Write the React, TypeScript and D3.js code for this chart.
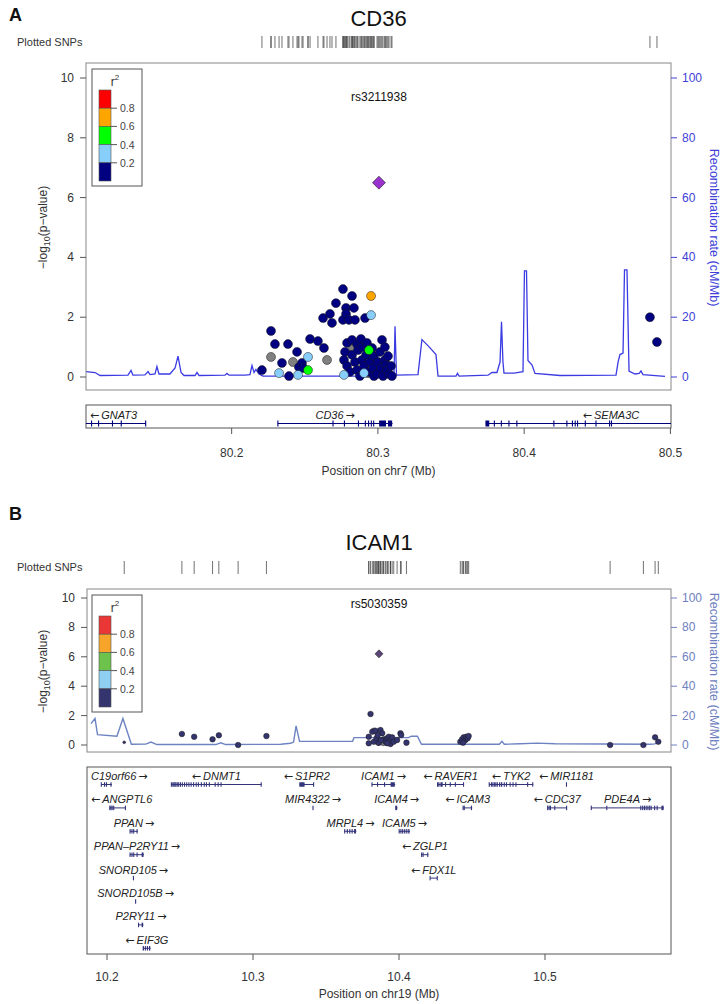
import React from "react";
import * as d3 from "d3";

const FONT = "'Liberation Sans', Arial, Helvetica, sans-serif";
const ARROW_FONT = "'DejaVu Sans', sans-serif";

// ---------------- shared ticks / labels ----------------
const Y_TICKS = [0, 2, 4, 6, 8, 10];
const RECOMB_TICKS = [0, 20, 40, 60, 80, 100];
const LD_LABELS = ["0.2", "0.4", "0.6", "0.8"];

// ---------------- panel A : CD36 ----------------
const TITLE_A = "CD36";
const CHR_A = "chr7";
const X_DOMAIN_A = [80.1004, 80.5004];
const X_TICKS_A = [80.2, 80.3, 80.4, 80.5];
const LEAD_A: [string, number, number] = ["rs3211938", 80.3007, 6.5];
// [position Mb, -log10 p, LD class (-1 = NA, 0 <0.2, 1 0.2-0.4, 2 0.4-0.6, 3 0.6-0.8, 4 >0.8)]
const SNPS_A: [number, number, number][] = [
  [80.2207, 0.23, 0], [80.2269, 1.54, 0], [80.2269, 0.67, -1], [80.2296, 1.1, 0],
  [80.2324, 0.13, 1], [80.2344, 0.47, 0], [80.2385, 1.1, 0], [80.2392, 0.03, 0],
  [80.2419, 0.5, -1], [80.2447, 0.84, 0], [80.2454, 0.07, 1], [80.246, 0.33, 0],
  [80.2481, 0.47, 0], [80.2488, 0.3, 0], [80.2522, 0.67, 1], [80.2522, 0.23, 2],
  [80.2536, 1.27, 0], [80.259, 1.2, 0], [80.2625, 1.97, 0], [80.2631, 0.97, 0],
  [80.2652, 0.57, -1], [80.2672, 2.11, 0], [80.2686, 1.81, 0], [80.2713, 2.47, 0],
  [80.2761, 2.94, 0], [80.2761, 1.91, 0], [80.2768, 0.07, 1], [80.2768, 0.57, 0],
  [80.2775, 0.84, 0], [80.2782, 2.31, 0], [80.2782, 2.11, 0], [80.2789, 1.14, 0],
  [80.2789, 0.37, 0], [80.2802, 1.91, 0], [80.2809, 0.17, 0], [80.2823, 2.71, 0],
  [80.2823, 1.24, 0], [80.2823, 0.74, 0], [80.283, 0.94, -1], [80.2836, 2.31, 0],
  [80.2843, 1.91, 0], [80.2843, 0.5, 0], [80.2857, 1.1, 0], [80.2857, 0.23, 0],
  [80.2864, 0.9, 0], [80.2877, 0.03, 0], [80.2884, 1.27, 0], [80.2891, 1.0, 0],
  [80.2891, 0.57, 0], [80.2905, 0.37, 0], [80.2905, 0.13, 1], [80.2912, 1.97, 0],
  [80.2919, 0.74, 0], [80.2925, 1.14, 0], [80.2932, 0.17, 0], [80.2932, 0.13, -1],
  [80.2939, 0.9, 2], [80.2946, 0.5, 0], [80.2953, 2.71, 3], [80.2953, 2.07, 1],
  [80.296, 0.97, 0], [80.2966, 0.3, 0], [80.2973, 0.7, 0], [80.2973, 0.03, 0],
  [80.2994, 0.1, 0], [80.3001, 0.5, 0], [80.3014, 0.84, 0], [80.3021, 0.3, 0],
  [80.3028, 1.24, 0], [80.3035, 0.03, 0], [80.3048, 1.0, 0], [80.3048, 0.57, 0],
  [80.3055, 0.4, 0], [80.3062, 0.23, 0], [80.3069, 0.7, 0], [80.3076, 0.1, 0],
  [80.309, 0.37, 0], [80.3096, 0.03, 0], [80.486, 2.0, 0], [80.4908, 1.17, 0],
];
// [position Mb, recombination rate cM/Mb]
const RECOMB_A: [number, number][] = [
  [80.1004, 1.8], [80.1066, 1.5], [80.11, 0.5], [80.1291, 0.6], [80.1312, 2.2], [80.1325, 0.6],
  [80.1407, 0.7], [80.1428, 1.8], [80.1442, 0.8], [80.1476, 1.0], [80.1489, 3.5], [80.1503, 1.0],
  [80.1578, 1.0], [80.1613, 3.0], [80.1633, 7.0], [80.1654, 1.5], [80.1674, 0.5], [80.1749, 0.5],
  [80.1763, 1.5], [80.1777, 0.5], [80.1954, 0.6], [80.1968, 1.2], [80.1982, 0.6], [80.2091, 0.6],
  [80.2125, 0.8], [80.2139, 3.8], [80.2153, 1.5], [80.2166, 2.5], [80.2187, 1.0], [80.2214, 0.3],
  [80.311, 0.3], [80.3117, 17.0], [80.3127, 0.6], [80.3274, 0.8], [80.3301, 12.5], [80.3342, 10.5],
  [80.337, 9.0], [80.3397, 7.5], [80.3411, 0.3], [80.3534, 0.3], [80.3544, 1.2], [80.3555, 0.3],
  [80.3753, 0.6], [80.378, 1.5], [80.3814, 1.5], [80.3835, 5.0], [80.3845, 18.5], [80.3855, 5.0],
  [80.3862, 1.3], [80.3931, 1.3], [80.3992, 1.8], [80.4002, 35.5], [80.4016, 35.5], [80.4026, 5.5],
  [80.4054, 4.0], [80.4074, 1.2], [80.4245, 0.5], [80.4628, 0.6], [80.4642, 5.0], [80.4655, 7.5],
  [80.4676, 8.0], [80.4686, 35.8], [80.4703, 35.8], [80.4717, 2.0], [80.4758, 1.0], [80.4786, 1.2],
  [80.4799, 2.0], [80.4812, 0.8], [80.4963, 0.2],
];
const GENES_A = [
  { name: "GNAT3", start: 80.0879, end: 80.1414, strand: "-", row: 0,
    exons: [[80.1041, 80.1045], [80.1089, 80.1093], [80.1184, 80.1188], [80.1244, 80.1248], [80.1411, 80.1414]] },
  { name: "CD36", start: 80.2315, end: 80.31, strand: "+", row: 0,
    exons: [[80.2315, 80.2318], [80.2692, 80.2695], [80.277, 80.2776], [80.2866, 80.2869], [80.2913, 80.2916],
      [80.2935, 80.2938], [80.2954, 80.2957], [80.297, 80.2973], [80.3011, 80.3058], [80.3072, 80.31]] },
  { name: "SEMA3C", start: 80.3738, end: 80.545, strand: "-", row: 0,
    exons: [[80.3738, 80.3764], [80.3795, 80.3798], [80.3843, 80.3846], [80.3895, 80.3898], [80.3949, 80.3952],
      [80.4202, 80.4205], [80.4291, 80.4294], [80.4329, 80.4332], [80.4348, 80.4351], [80.4364, 80.4367],
      [80.4417, 80.442], [80.449, 80.4493], [80.4583, 80.4586], [80.4596, 80.4599]] },
];

// ---------------- panel B : ICAM1 ----------------
const TITLE_B = "ICAM1";
const CHR_B = "chr19";
const X_DOMAIN_B = [10.1863, 10.5863];
const X_TICKS_B = [10.2, 10.3, 10.4, 10.5];
const LEAD_B: [string, number, number] = ["rs5030359", 10.3863, 6.2];
const SNPS_B: [number, number, number][] = [
  [10.2118, 0.18, 0], [10.2513, 0.75, 0], [10.2597, 0.56, 0], [10.2723, 0.39, 0],
  [10.2766, 0.66, 0], [10.2898, 0.0, 0], [10.3092, 0.61, 0], [10.3805, 2.11, 0],
  [10.3793, 0.56, 0], [10.3817, 0.9, 0], [10.3839, 0.97, 0], [10.3828, 0.22, 0],
  [10.3846, 0.46, 0], [10.3862, 0.16, 0], [10.3873, 1.02, 0], [10.3885, 0.8, 0],
  [10.3896, 0.39, 0], [10.3907, 0.22, 0], [10.3919, 0.46, 0], [10.393, 0.56, 0],
  [10.3942, 0.34, 0], [10.3942, 0.07, 0], [10.3953, 0.52, 0], [10.3964, 0.22, 0],
  [10.3987, 0.34, 0], [10.401, 0.8, 0], [10.4015, 0.68, 0], [10.4051, 0.16, 0],
  [10.3793, 0.12, 0], [10.3854, 0.68, 0], [10.3876, 0.34, 0], [10.3919, 0.12, 0],
  [10.3828, 0.97, -1], [10.3858, 0.16, -1], [10.3893, 0.14, -1],
  [10.442, 0.22, 0], [10.4432, 0.39, 0], [10.4443, 0.52, 0], [10.4455, 0.34, 0],
  [10.4461, 0.56, 0], [10.447, 0.46, 0], [10.4477, 0.61, 0], [10.4439, 0.16, 0],
  [10.5446, 0.0, 0], [10.5674, 0.0, 0], [10.5754, 0.52, 0], [10.5776, 0.22, 0],
];
const RECOMB_B: [number, number][] = [
  [10.189, 14.5], [10.1918, 18.0], [10.1935, 7.0], [10.2068, 6.0], [10.2109, 18.0], [10.2167, 0.5],
  [10.2266, 0.6], [10.2301, 2.0], [10.2342, 0.3], [10.2745, 0.3], [10.2779, 1.5], [10.2813, 0.3],
  [10.319, 0.5], [10.3258, 1.2], [10.3278, 2.0], [10.3295, 13.0], [10.3319, 2.5], [10.3682, 2.5],
  [10.3692, 5.0], [10.4065, 5.0], [10.4085, 6.0], [10.4126, 6.0], [10.4154, 0.5], [10.4687, 0.5],
  [10.4705, 2.5], [10.4721, 0.5], [10.483, 0.8], [10.4947, 1.3], [10.507, 0.8], [10.5719, 0.5],
  [10.5753, 0.8], [10.5788, 3.0],
];
const GENES_B = [
  { name: "C19orf66", start: 10.196, end: 10.2034, strand: "+", row: 0,
    exons: [[10.196, 10.1964], [10.1982, 10.1987], [10.1995, 10.2003], [10.2026, 10.2034]] },
  { name: "DNMT1", start: 10.244, end: 10.3058, strand: "-", row: 0,
    exons: [[10.244, 10.2446], [10.245, 10.2453], [10.2457, 10.246], [10.2464, 10.2467], [10.2471, 10.2474],
      [10.248, 10.2483], [10.249, 10.2493], [10.2502, 10.2505], [10.2515, 10.2518], [10.253, 10.2533],
      [10.2545, 10.2548], [10.256, 10.2563], [10.2575, 10.2578], [10.2592, 10.2595], [10.261, 10.2613],
      [10.2625, 10.2628], [10.2645, 10.2648], [10.2665, 10.2668], [10.268, 10.2683], [10.27, 10.2703],
      [10.274, 10.2743], [10.276, 10.2763], [10.278, 10.2783], [10.3055, 10.3058]] },
  { name: "S1PR2", start: 10.332, end: 10.3418, strand: "-", row: 0, exons: [[10.332, 10.3356], [10.3414, 10.3418]] },
  { name: "ICAM1", start: 10.3814, end: 10.3974, strand: "+", row: 0,
    exons: [[10.3814, 10.3817], [10.3852, 10.3855], [10.39, 10.3903], [10.3945, 10.3974]] },
  { name: "RAVER1", start: 10.4263, end: 10.4444, strand: "-", row: 0,
    exons: [[10.4263, 10.4275], [10.428, 10.4284], [10.429, 10.4302], [10.4318, 10.4322], [10.435, 10.4354],
      [10.4385, 10.4388], [10.4441, 10.4444]] },
  { name: "TYK2", start: 10.4617, end: 10.4919, strand: "-", row: 0,
    exons: [[10.4617, 10.4625], [10.4632, 10.4635], [10.4642, 10.4645], [10.4652, 10.4655], [10.4662, 10.4665],
      [10.4672, 10.468], [10.4688, 10.4692], [10.47, 10.471], [10.472, 10.4723], [10.4735, 10.4738],
      [10.476, 10.4763], [10.478, 10.4783], [10.48, 10.4803], [10.488, 10.4883], [10.4915, 10.4919]] },
  { name: "MIR1181", start: 10.5146, end: 10.5148, strand: "-", row: 0, exons: [[10.5146, 10.5148]] },
  { name: "ANGPTL6", start: 10.2018, end: 10.2128, strand: "-", row: 1,
    exons: [[10.2018, 10.2022], [10.2026, 10.203], [10.2034, 10.204], [10.2045, 10.2048], [10.2125, 10.2128]] },
  { name: "MIR4322", start: 10.341, end: 10.3411, strand: "+", row: 1, exons: [[10.341, 10.3411]] },
  { name: "ICAM4", start: 10.3977, end: 10.399, strand: "+", row: 1, exons: [[10.3977, 10.399]] },
  { name: "ICAM3", start: 10.4438, end: 10.4502, strand: "-", row: 1,
    exons: [[10.4438, 10.4442], [10.4446, 10.445], [10.4495, 10.4502]] },
  { name: "CDC37", start: 10.5017, end: 10.515, strand: "-", row: 1,
    exons: [[10.5017, 10.5022], [10.5027, 10.5031], [10.5036, 10.5041], [10.5066, 10.5069], [10.5147, 10.515]] },
  { name: "PDE4A", start: 10.5316, end: 10.5815, strand: "+", row: 1,
    exons: [[10.5316, 10.5318], [10.5422, 10.5424], [10.5655, 10.5657], [10.5668, 10.567], [10.568, 10.5682],
      [10.5692, 10.5694], [10.5704, 10.5706], [10.5716, 10.5718], [10.5726, 10.5728], [10.575, 10.5752],
      [10.5767, 10.5769], [10.58, 10.5815]] },
  { name: "PPAN", start: 10.2157, end: 10.2212, strand: "+", row: 2,
    exons: [[10.2157, 10.2162], [10.217, 10.2175], [10.2182, 10.2186], [10.2205, 10.2212]] },
  { name: "MRPL4", start: 10.3627, end: 10.3708, strand: "+", row: 2,
    exons: [[10.3627, 10.363], [10.3645, 10.3649], [10.3662, 10.3666], [10.3678, 10.3684], [10.3695, 10.3708]] },
  { name: "ICAM5", start: 10.4, end: 10.4075, strand: "+", row: 2,
    exons: [[10.4, 10.4006], [10.4012, 10.4018], [10.4024, 10.4032], [10.4038, 10.4046], [10.4052, 10.406], [10.4066, 10.4075]] },
  { name: "PPAN\u2013P2RY11", start: 10.2157, end: 10.2253, strand: "+", row: 3,
    exons: [[10.2157, 10.2162], [10.217, 10.2175], [10.2182, 10.2186], [10.2205, 10.221], [10.224, 10.2253]] },
  { name: "ZGLP1", start: 10.4154, end: 10.4201, strand: "-", row: 3,
    exons: [[10.4154, 10.4159], [10.4164, 10.417], [10.4196, 10.4201]] },
  { name: "SNORD105", start: 10.218, end: 10.2181, strand: "+", row: 4, exons: [[10.218, 10.2181]] },
  { name: "FDX1L", start: 10.4212, end: 10.4264, strand: "-", row: 4, exons: [[10.4212, 10.4215], [10.4261, 10.4264]] },
  { name: "SNORD105B", start: 10.2195, end: 10.2196, strand: "+", row: 5, exons: [[10.2195, 10.2196]] },
  { name: "P2RY11", start: 10.2215, end: 10.225, strand: "+", row: 6, exons: [[10.2215, 10.2222], [10.224, 10.225]] },
  { name: "EIF3G", start: 10.2247, end: 10.2299, strand: "-", row: 7,
    exons: [[10.2247, 10.2256], [10.2262, 10.2268], [10.2276, 10.2283], [10.229, 10.2299]] },
];

// ---------------- styles ----------------
const COLORS_A = { ld: ["#000080", "#87CEFA", "#00FF00", "#FFA500", "#FF0000"], na: "#808080", lead: "#9932CC",
  recomb: "#3B3BE3", right: "#4040D8", gene: "#00007A" };
const COLORS_B = { ld: ["#34346E", "#8FCFF2", "#6CC24A", "#F6A52A", "#EA3634"], na: "#8A8A8A", lead: "#5A4478",
  recomb: "#6E84C2", right: "#6E80C0", gene: "#34347C" };

const CFG_A = {
  letter: "A", title: TITLE_A, chr: CHR_A, xDomain: X_DOMAIN_A, xTicks: X_TICKS_A, lead: LEAD_A, snps: SNPS_A,
  recomb: RECOMB_A, genes: GENES_A, colors: COLORS_A,
  letterY: 21, titleY: 26, snpLabelY: 46, tick0: 36, tick1: 48,
  fx0: 86, fx1: 671, fy0: 63, fy1: 390, yRange: [377, 78], leadLabelY: 101,
  gy0: 405, gy1: 428, rowLabel0: 419, rowGene0: 423.5, rowStep: 0, exonH: 6,
  xLabelY: 457, xTitleY: 475, legendY: 69, r: 4.5, dia: 6.5, lineW: 1.3,
};
const CFG_B = {
  letter: "B", title: TITLE_B, chr: CHR_B, xDomain: X_DOMAIN_B, xTicks: X_TICKS_B, lead: LEAD_B, snps: SNPS_B,
  recomb: RECOMB_B, genes: GENES_B, colors: COLORS_B,
  letterY: 520, titleY: 550, snpLabelY: 571, tick0: 561, tick1: 574,
  fx0: 87, fx1: 671, fy0: 589, fy1: 752, yRange: [745, 598], leadLabelY: 608,
  gy0: 767, gy1: 954, rowLabel0: 780, rowGene0: 784.5, rowStep: 23.4, exonH: 4.5,
  xLabelY: 981, xTitleY: 998, legendY: 595, r: 2.8, dia: 4, lineW: 1.4,
};

let measureCtx: CanvasRenderingContext2D | null = null;
function textWidth(s: string, font: string) {
  if (!measureCtx && typeof document !== "undefined") measureCtx = document.createElement("canvas").getContext("2d");
  if (!measureCtx) return s.length * 6;
  measureCtx.font = font;
  return measureCtx.measureText(s).width;
}

function Legend({ x0, y0, colors }: { x0: number; y0: number; colors: string[] }) {
  const segTop = y0 + 21;
  const segH = 18.2;
  const cx = x0 + 7;
  const cw = 12;
  return (
    <g>
      <rect x={x0} y={y0} width={50} height={117} fill="#fff" stroke="#555" strokeWidth={1} />
      <text x={x0 + 23} y={y0 + 17} fontSize={12} textAnchor="middle" fill="#333">
        r<tspan fontSize={8} dy={-6}>2</tspan>
      </text>
      {colors.slice().reverse().map((c, i) => (
        <rect key={i} x={cx} y={segTop + i * segH} width={cw} height={segH} fill={c} stroke="#555" strokeWidth={0.6} />
      ))}
      {LD_LABELS.slice().reverse().map((l, i) => (
        <g key={l}>
          <line x1={cx + cw} x2={cx + cw + 6} y1={segTop + (i + 1) * segH} y2={segTop + (i + 1) * segH} stroke="#555" />
          <text x={cx + cw + 9} y={segTop + (i + 1) * segH + 4} fontSize={10.5} fill="#444">{l}</text>
        </g>
      ))}
    </g>
  );
}

function Panel({ c }: { c: any }) {
  const x = d3.scaleLinear().domain(c.xDomain).range([c.fx0, c.fx1]);
  const y = d3.scaleLinear().domain([0, 10]).range(c.yRange);
  const yr = d3.scaleLinear().domain([0, 100]).range(c.yRange);
  const line = d3.line<[number, number]>().x((d) => x(d[0])).y((d) => yr(d[1]));
  const clipId = "clip" + c.letter;
  const gclipId = "gclip" + c.letter;
  const order = [-1, 0, 1, 2, 3, 4];
  const snps = c.snps.slice().sort((a: any, b: any) => order.indexOf(a[2]) - order.indexOf(b[2]));
  const allPos = c.snps.map((s: any) => s[0]).concat([c.lead[1]]);
  const colorOf = (ld: number) => (ld < 0 ? c.colors.na : c.colors.ld[ld]);
  const lx = x(c.lead[1]);
  const ly = y(c.lead[2]);
  const midY = (c.yRange[0] + c.yRange[1]) / 2;
  const geneFont = `italic 11px ${FONT}`;
  const arrowFont = `11px ${ARROW_FONT}`;

  return (
    <g fontFamily={FONT}>
      <defs>
        <clipPath id={clipId}>
          <rect x={c.fx0} y={c.fy0} width={c.fx1 - c.fx0} height={c.fy1 - c.fy0} />
        </clipPath>
        <clipPath id={gclipId}>
          <rect x={c.fx0} y={c.gy0} width={c.fx1 - c.fx0} height={c.gy1 - c.gy0} />
        </clipPath>
      </defs>
      <text x={9} y={c.letterY} fontSize={18} fontWeight="bold" fill="#111">{c.letter}</text>
      <text x={(c.fx0 + c.fx1) / 2} y={c.titleY} fontSize={22} textAnchor="middle" fill="#111">{c.title}</text>
      <text x={17} y={c.snpLabelY} fontSize={11} fill="#333">Plotted SNPs</text>
      {allPos.map((p: number, i: number) => (
        <line key={i} x1={x(p)} x2={x(p)} y1={c.tick0} y2={c.tick1} stroke="#333" strokeWidth={0.7} />
      ))}

      <g clipPath={`url(#${clipId})`}>
        <path d={line(c.recomb) || ""} fill="none" stroke={c.colors.recomb} strokeWidth={c.lineW} />
        {snps.map((s: any, i: number) => (
          <circle key={i} cx={x(s[0])} cy={y(s[1])} r={c.letter === "B" && s[0] < 10.22 ? 1.4 : c.r}
            fill={colorOf(s[2])} stroke="#1a1a1a" strokeWidth={0.5} />
        ))}
        <path d={`M${lx},${ly - c.dia}L${lx + c.dia},${ly}L${lx},${ly + c.dia}L${lx - c.dia},${ly}Z`}
          fill={c.colors.lead} stroke="#222" strokeWidth={0.6} />
      </g>
      <text x={lx} y={c.leadLabelY} fontSize={12} textAnchor="middle" fill="#111">{c.lead[0]}</text>

      <rect x={c.fx0} y={c.fy0} width={c.fx1 - c.fx0} height={c.fy1 - c.fy0} fill="none" stroke="#888" strokeWidth={1} />

      {Y_TICKS.map((t) => (
        <g key={t}>
          <line x1={c.fx0 - 6} x2={c.fx0} y1={y(t)} y2={y(t)} stroke="#555" />
          <text x={c.fx0 - 12} y={y(t) + 4} fontSize={12} textAnchor="end" fill="#333">{t}</text>
        </g>
      ))}
      <text transform={`translate(47,${midY}) rotate(-90)`} fontSize={12} textAnchor="middle" fill="#333">
        {"\u2212log"}<tspan fontSize={9} dy={3}>10</tspan><tspan dy={-3}>{"(p\u2212value)"}</tspan>
      </text>

      {RECOMB_TICKS.map((t) => (
        <g key={t}>
          <line x1={c.fx1} x2={c.fx1 + 6} y1={yr(t)} y2={yr(t)} stroke={c.colors.right} />
          <text x={c.fx1 + 11} y={yr(t) + 4} fontSize={12} fill={c.colors.right}>{t}</text>
        </g>
      ))}
      <text transform={`translate(710,${midY}) rotate(90)`} fontSize={12.5} textAnchor="middle" fill={c.colors.right}>
        Recombination rate (cM/Mb)
      </text>

      <Legend x0={92} y0={c.legendY} colors={c.colors.ld} />

      <rect x={c.fx0} y={c.gy0} width={c.fx1 - c.fx0} height={c.gy1 - c.gy0} fill="#fff" stroke="#555" strokeWidth={1} />
      <g clipPath={`url(#${gclipId})`}>
        {c.genes.map((g: any) => {
          const gy = c.rowGene0 + g.row * c.rowStep;
          return (
            <g key={g.name}>
              <line x1={x(g.start)} x2={x(g.end)} y1={gy} y2={gy} stroke={c.colors.gene} strokeWidth={1} />
              {g.exons.map((e: number[], j: number) => (
                <rect key={j} x={x(e[0]) - 0.4} y={gy - c.exonH / 2} width={Math.max(1.1, x(e[1]) - x(e[0]))}
                  height={c.exonH} fill={c.colors.gene} />
              ))}
            </g>
          );
        })}
      </g>
      {c.genes.map((g: any) => {
        const plus = g.strand === "+";
        const arrow = plus ? "\u2192" : "\u2190";
        const gap = 2;
        const w = textWidth(g.name, geneFont) + textWidth(arrow, arrowFont) + gap;
        let cx = x((g.start + g.end) / 2);
        cx = Math.max(c.fx0 + 4 + w / 2, Math.min(c.fx1 - 4 - w / 2, cx));
        const left = cx - w / 2;
        const ty = c.rowLabel0 + g.row * c.rowStep;
        const aw = textWidth(arrow, arrowFont);
        return plus ? (
          <g key={"l" + g.name}>
            <text x={left} y={ty} fontSize={11} fontStyle="italic" fill="#222">{g.name}</text>
            <text x={left + w - aw} y={ty} fontSize={11} fontFamily={ARROW_FONT} fill="#222">{arrow}</text>
          </g>
        ) : (
          <g key={"l" + g.name}>
            <text x={left} y={ty} fontSize={11} fontFamily={ARROW_FONT} fill="#222">{arrow}</text>
            <text x={left + aw + gap} y={ty} fontSize={11} fontStyle="italic" fill="#222">{g.name}</text>
          </g>
        );
      })}

      {c.xTicks.map((t: number) => (
        <g key={t}>
          <line x1={x(t)} x2={x(t)} y1={c.gy1} y2={c.gy1 + 6} stroke="#555" />
          <text x={x(t)} y={c.xLabelY} fontSize={12} textAnchor="middle" fill="#333">{t.toFixed(1)}</text>
        </g>
      ))}
      <text x={(c.fx0 + c.fx1) / 2} y={c.xTitleY} fontSize={12} textAnchor="middle" fill="#333">
        {`Position on ${c.chr} (Mb)`}
      </text>
    </g>
  );
}

export default function App() {
  return (
    <svg width={723} height={1004} style={{ position: "absolute", left: 0, top: 0, background: "#fff" }}>
      <rect width={723} height={1004} fill="#fff" />
      <Panel c={CFG_A} />
      <Panel c={CFG_B} />
    </svg>
  );
}
